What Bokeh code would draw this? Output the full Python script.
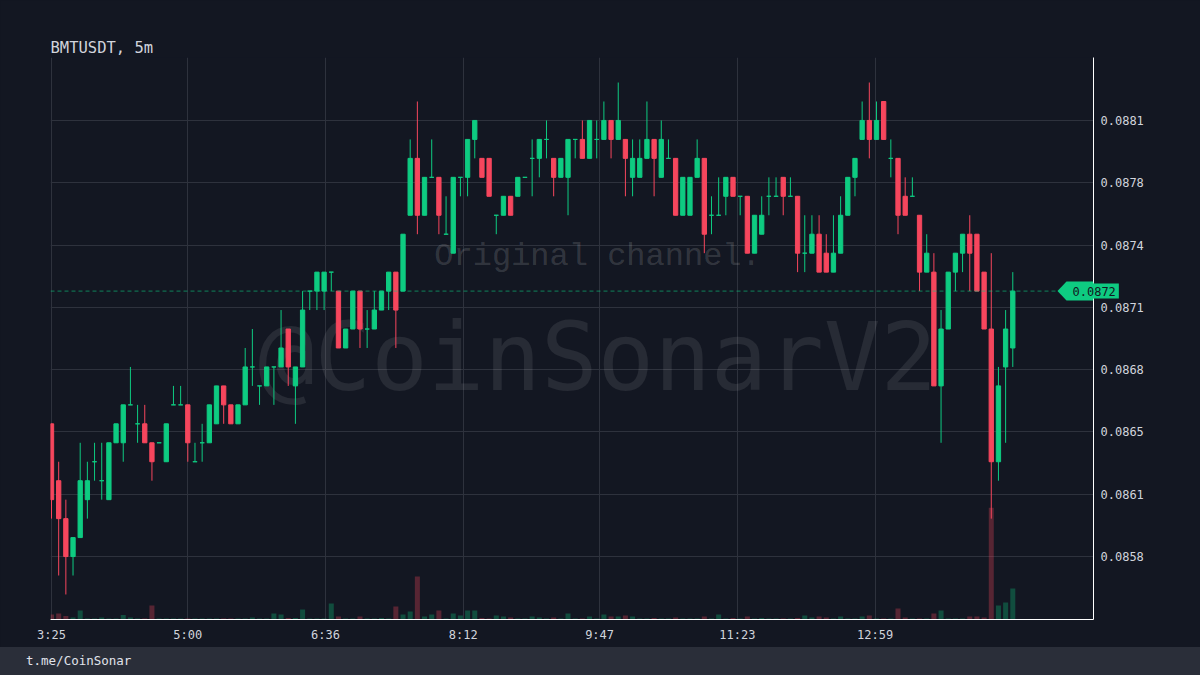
from bokeh.plotting import figure
from bokeh.layouts import column
from bokeh.models import Range1d, FixedTicker, Span, Label, PolyAnnotation, ColumnDataSource, PrintfTickFormatter, Div
from bokeh.embed import file_html
from bokeh.resources import INLINE
from bokeh.core.properties import value

# ---------------- data ----------------
title_text = "BMTUSDT, 5m"
footer_text = "t.me/CoinSonar"
watermark_big = "@CoinSonarV2"
watermark_small = "Original channel."

time_labels = ["3:25", "5:00", "6:36", "8:12", "9:47", "11:23", "12:59"]
price_tick_labels = ["0.0858", "0.0861", "0.0865", "0.0868", "0.0871", "0.0874", "0.0878", "0.0881"]
price_tick_values = [0.0858, 0.08612857, 0.08645714, 0.08678571, 0.08711429, 0.08744286, 0.08777143, 0.0881]

opens = [
    0.0865, 0.0862, 0.0860, 0.0858, 0.0859, 0.0861, 0.0863, 0.0862, 0.0861, 0.0864,
    0.0864, 0.0866, 0.0865, 0.0865, 0.0864, 0.0864, 0.0863, 0.0866, 0.0866, 0.0866,
    0.0863, 0.0864, 0.0864, 0.0865, 0.0867, 0.0866, 0.0865, 0.0866, 0.0868, 0.0867,
    0.0867, 0.0868, 0.0868, 0.0870, 0.0867, 0.0868, 0.0872, 0.0872, 0.0872, 0.0873,
    0.0872, 0.0869, 0.0870, 0.0872, 0.0870, 0.0870, 0.0871, 0.0872, 0.0873, 0.0872,
    0.0876, 0.0879, 0.0876, 0.0878, 0.0878, 0.0875, 0.0874, 0.0878, 0.0878, 0.0880,
    0.0879, 0.0879, 0.0876, 0.0876, 0.0877, 0.0877, 0.0878, 0.0879, 0.0879, 0.0880,
    0.0879, 0.0878, 0.0878, 0.0880, 0.0880, 0.0879, 0.0880, 0.0880, 0.0881, 0.0880,
    0.0880, 0.0878, 0.0878, 0.0879, 0.0880, 0.0878, 0.0879, 0.0879, 0.0876, 0.0876,
    0.0878, 0.0879, 0.0876, 0.0876, 0.0877, 0.0878, 0.0877, 0.0877, 0.0874, 0.0875,
    0.0877, 0.0877, 0.0878, 0.0877, 0.0877, 0.0874, 0.0874, 0.0875, 0.0874, 0.0873,
    0.0874, 0.0876, 0.0878, 0.0880, 0.0881, 0.0880, 0.0882, 0.0879, 0.0879, 0.0877,
    0.0877, 0.0876, 0.0873, 0.0873, 0.0867, 0.0870, 0.0873, 0.0874, 0.0875, 0.0875,
    0.0873, 0.0870, 0.0863, 0.0868, 0.0869,
]
highs = [
    0.0865, 0.0863, 0.0861, 0.0859, 0.0864, 0.0863, 0.0864, 0.0864, 0.0864, 0.0865,
    0.0866, 0.0868, 0.0866, 0.0866, 0.0864, 0.0864, 0.0865, 0.0867, 0.0867, 0.0866,
    0.0864, 0.0865, 0.0866, 0.0867, 0.0867, 0.0866, 0.0866, 0.0869, 0.0870, 0.0867,
    0.0868, 0.0868, 0.0871, 0.0870, 0.0868, 0.0872, 0.0872, 0.0873, 0.0873, 0.0873,
    0.0872, 0.0870, 0.0872, 0.0872, 0.0871, 0.0872, 0.0872, 0.0873, 0.0873, 0.0875,
    0.0880, 0.0882, 0.0878, 0.0880, 0.0878, 0.0877, 0.0878, 0.0878, 0.0880, 0.0881,
    0.0879, 0.0879, 0.0876, 0.0877, 0.0877, 0.0878, 0.0878, 0.0880, 0.0880, 0.0881,
    0.0879, 0.0879, 0.0880, 0.0880, 0.0881, 0.0881, 0.0881, 0.0882, 0.0881, 0.0883,
    0.0880, 0.0880, 0.0880, 0.0882, 0.0880, 0.0881, 0.0880, 0.0879, 0.0878, 0.0878,
    0.0880, 0.0879, 0.0877, 0.0878, 0.0878, 0.0878, 0.0877, 0.0877, 0.0876, 0.0877,
    0.0878, 0.0878, 0.0878, 0.0878, 0.0877, 0.0876, 0.0876, 0.0876, 0.0875, 0.0876,
    0.0877, 0.0878, 0.0879, 0.0882, 0.0883, 0.0882, 0.0882, 0.0880, 0.0879, 0.0878,
    0.0878, 0.0876, 0.0875, 0.0874, 0.0871, 0.0873, 0.0874, 0.0875, 0.0876, 0.0875,
    0.0873, 0.0874, 0.0868, 0.0871, 0.0873,
]
lows = [
    0.0860, 0.0857, 0.0856, 0.0857, 0.0859, 0.0860, 0.0862, 0.0861, 0.0861, 0.0864,
    0.0863, 0.0866, 0.0864, 0.0864, 0.0862, 0.0864, 0.0863, 0.0866, 0.0866, 0.0863,
    0.0863, 0.0863, 0.0864, 0.0865, 0.0865, 0.0865, 0.0865, 0.0866, 0.0867, 0.0866,
    0.0867, 0.0866, 0.0868, 0.0867, 0.0865, 0.0868, 0.0871, 0.0871, 0.0871, 0.0872,
    0.0869, 0.0869, 0.0870, 0.0869, 0.0869, 0.0870, 0.0871, 0.0871, 0.0869, 0.0872,
    0.0876, 0.0875, 0.0876, 0.0878, 0.0875, 0.0875, 0.0874, 0.0877, 0.0877, 0.0879,
    0.0878, 0.0877, 0.0875, 0.0876, 0.0876, 0.0877, 0.0878, 0.0877, 0.0878, 0.0879,
    0.0877, 0.0878, 0.0876, 0.0879, 0.0879, 0.0879, 0.0879, 0.0880, 0.0879, 0.0880,
    0.0877, 0.0877, 0.0878, 0.0879, 0.0877, 0.0878, 0.0879, 0.0876, 0.0876, 0.0876,
    0.0878, 0.0874, 0.0875, 0.0876, 0.0876, 0.0877, 0.0876, 0.0874, 0.0874, 0.0875,
    0.0876, 0.0877, 0.0876, 0.0877, 0.0873, 0.0873, 0.0874, 0.0873, 0.0873, 0.0873,
    0.0874, 0.0876, 0.0877, 0.0880, 0.0879, 0.0880, 0.0880, 0.0878, 0.0875, 0.0876,
    0.0877, 0.0872, 0.0873, 0.0867, 0.0864, 0.0870, 0.0872, 0.0873, 0.0872, 0.0872,
    0.0870, 0.0860, 0.0862, 0.0864, 0.0868,
]
closes = [
    0.0861, 0.0860, 0.0858, 0.0859, 0.0862, 0.0862, 0.0863, 0.0862, 0.0864, 0.0865,
    0.0866, 0.0866, 0.0865, 0.0864, 0.0863, 0.0864, 0.0865, 0.0866, 0.0866, 0.0864,
    0.0863, 0.0864, 0.0866, 0.0867, 0.0866, 0.0865, 0.0866, 0.0868, 0.0868, 0.0867,
    0.0868, 0.0868, 0.0869, 0.0868, 0.0868, 0.0871, 0.0872, 0.0873, 0.0873, 0.0873,
    0.0869, 0.0870, 0.0872, 0.0870, 0.0870, 0.0871, 0.0872, 0.0873, 0.0871, 0.0875,
    0.0879, 0.0876, 0.0878, 0.0878, 0.0876, 0.0875, 0.0878, 0.0878, 0.0880, 0.0881,
    0.0878, 0.0877, 0.0876, 0.0877, 0.0876, 0.0878, 0.0878, 0.0879, 0.0880, 0.0880,
    0.0878, 0.0879, 0.0880, 0.0880, 0.0879, 0.0881, 0.0880, 0.0881, 0.0880, 0.0881,
    0.0879, 0.0879, 0.0879, 0.0880, 0.0879, 0.0880, 0.0879, 0.0876, 0.0878, 0.0878,
    0.0879, 0.0875, 0.0876, 0.0876, 0.0878, 0.0877, 0.0877, 0.0874, 0.0876, 0.0876,
    0.0877, 0.0877, 0.0877, 0.0877, 0.0874, 0.0874, 0.0875, 0.0873, 0.0873, 0.0874,
    0.0876, 0.0878, 0.0879, 0.0881, 0.0880, 0.0881, 0.0880, 0.0879, 0.0876, 0.0876,
    0.0877, 0.0873, 0.0874, 0.0867, 0.0870, 0.0873, 0.0874, 0.0875, 0.0874, 0.0872,
    0.0870, 0.0863, 0.0867, 0.0870, 0.0872,
]
volumes = [
    50, 60, 35, 20, 90, 10, 10, 20, 10, 10,
    45, 20, 10, 10, 140, 10, 10, 10, 10, 10,
    10, 10, 10, 10, 10, 10, 10, 10, 20, 10,
    10, 60, 50, 15, 15, 100, 10, 10, 10, 160,
    30, 10, 10, 30, 10, 10, 15, 10, 130, 50,
    80, 430, 30, 50, 90, 10, 60, 40, 90, 90,
    15, 10, 40, 30, 20, 10, 10, 30, 20, 10,
    20, 10, 60, 10, 10, 30, 10, 50, 30, 30,
    40, 30, 10, 10, 15, 10, 10, 20, 10, 10,
    10, 30, 10, 50, 10, 15, 10, 30, 10, 15,
    10, 10, 10, 10, 15, 40, 20, 30, 20, 10,
    30, 10, 10, 30, 40, 10, 10, 10, 110, 20,
    10, 10, 10, 60, 90, 10, 10, 10, 30, 30,
    20, 1120, 140, 170, 310,
]

# ---------------- styling ----------------
BG = "#131722"
FOOT = "#2a2e39"
GRID = "#2e323d"
TXT = "#d1d4dc"
GREEN = "#0ecb81"
RED = "#f6465d"
MONO = "DejaVu Sans Mono"

n = len(opens)
xs = list(range(n))
colors = [GREEN if c >= o else RED for o, c in zip(opens, closes)]
src = ColumnDataSource(dict(
    x=xs, high=highs, low=lows,
    top=[max(o, c) for o, c in zip(opens, closes)],
    bottom=[min(o, c) for o, c in zip(opens, closes)],
    color=colors, vol=volumes,
))

# x positions of the time labels (minutes since first candle / 5-minute bars)
def _mins(t):
    h, m = t.split(":")
    return int(h) * 60 + int(m)
t0 = _mins(time_labels[0])
time_ticks = [(_mins(t) - t0) / 5 for t in time_labels]

x_start, x_end = -0.14, 145.25
y_start, y_end = 0.085468, 0.088432

p = figure(width=1200, height=647,
           x_range=Range1d(x_start, x_end), y_range=Range1d(y_start, y_end),
           y_axis_location="right", output_backend="svg", toolbar_location=None,
           min_border_left=50, min_border_right=107, min_border_top=57, min_border_bottom=28,
           background_fill_color=BG, border_fill_color=BG, outline_line_color=None,
           title=title_text)

p.title.text_font = MONO
p.title.text_font_size = "15.5px"
p.title.text_font_style = "normal"
p.title.text_color = TXT
p.title.align = "left"
p.title.offset = 0
p.title.standoff = 2

# volume range
p.extra_y_ranges = {"vol": Range1d(0, max(volumes) * 5.03)}

# axes
p.xaxis.ticker = FixedTicker(ticks=time_ticks)
p.xaxis.major_label_overrides = dict(zip(time_ticks, time_labels))
p.yaxis.ticker = FixedTicker(ticks=price_tick_values)
p.yaxis.major_label_overrides = dict(zip(price_tick_values, price_tick_labels))
p.yaxis.formatter = PrintfTickFormatter(format="%.4f")
for ax in (p.xaxis, p.yaxis):
    ax.axis_line_color = "#ffffff"
    ax.axis_line_width = 1
    ax.major_tick_line_color = None
    ax.minor_tick_line_color = None
    ax.major_tick_out = 0
    ax.major_tick_in = 0
    ax.major_label_text_font = MONO
    ax.major_label_text_font_size = "12px"
    ax.major_label_text_color = TXT
p.xaxis.major_label_standoff = 8
p.yaxis.major_label_standoff = 7

p.xgrid.ticker = FixedTicker(ticks=time_ticks)
p.ygrid.ticker = FixedTicker(ticks=price_tick_values)
p.grid.grid_line_color = GRID
p.grid.grid_line_width = 1

# watermarks
wx = x_start + 0.5245 * (x_end - x_start)
p.text(x=[wx], y=[y_start + 0.466 * (y_end - y_start)], text=[watermark_big],
       text_font=value(MONO), text_font_size=value("94px"), text_color="#ffffff",
       text_alpha=0.085, text_align="center", text_baseline="middle")
p.text(x=[wx], y=[y_start + 0.646 * (y_end - y_start)], text=[watermark_small],
       text_font=value("Liberation Mono"), text_font_size=value("32px"), text_color="#ffffff",
       text_alpha=0.15, text_align="center", text_baseline="middle")

# volume bars
p.vbar(x="x", top="vol", bottom=0, width=0.7, fill_color="color", fill_alpha=0.3,
       line_color=None, y_range_name="vol", source=src)

# candles
p.segment(x0="x", y0="low", x1="x", y1="high", line_color="color", line_width=1, source=src)
p.vbar(x="x", top="top", bottom="bottom", width=0.6, fill_color="color",
       line_color="color", line_width=1, source=src)

# last price line and tag (the tag straddles the frame edge: the part inside the
# frame is drawn in the centre, the part over the price scale in the right panel)
last_close = closes[-1]
p.add_layout(Span(location=last_close, dimension="width", line_color=GREEN,
                  line_alpha=0.6, line_dash="4 3", line_width=1))
half = 0.00005
p.add_layout(PolyAnnotation(
    xs=[1057, 1066, 1093, 1093, 1066],
    ys=[last_close, last_close + half, last_close + half, last_close - half, last_close - half],
    xs_units="canvas", ys_units="data",
    fill_color=GREEN, fill_alpha=1.0, line_color=None))
tag_kw = dict(x=1069, y=last_close, x_units="canvas", y_units="data",
              text=f"{last_close:.4f}", text_align="left", text_baseline="middle",
              text_color=BG, text_font=MONO, text_font_size="12px",
              background_fill_color=GREEN, background_fill_alpha=1.0, padding=3)
p.add_layout(Label(**tag_kw))
p.add_layout(Label(**tag_kw), "right")

# footer
footer = Div(text=footer_text, width=1200, height=28,
             styles={"background-color": FOOT, "color": "#e0e3eb",
                     "font-family": MONO, "font-size": "12.5px",
                     "line-height": "28px", "padding-left": "26px",
                     "box-sizing": "border-box", "margin": "0"})

layout = column(p, footer, spacing=0)
html = file_html(layout, INLINE)
html = html.replace("</head>", "<style>html,body{background:#131722;}</style></head>", 1)
open("out.html", "w").write(html)
